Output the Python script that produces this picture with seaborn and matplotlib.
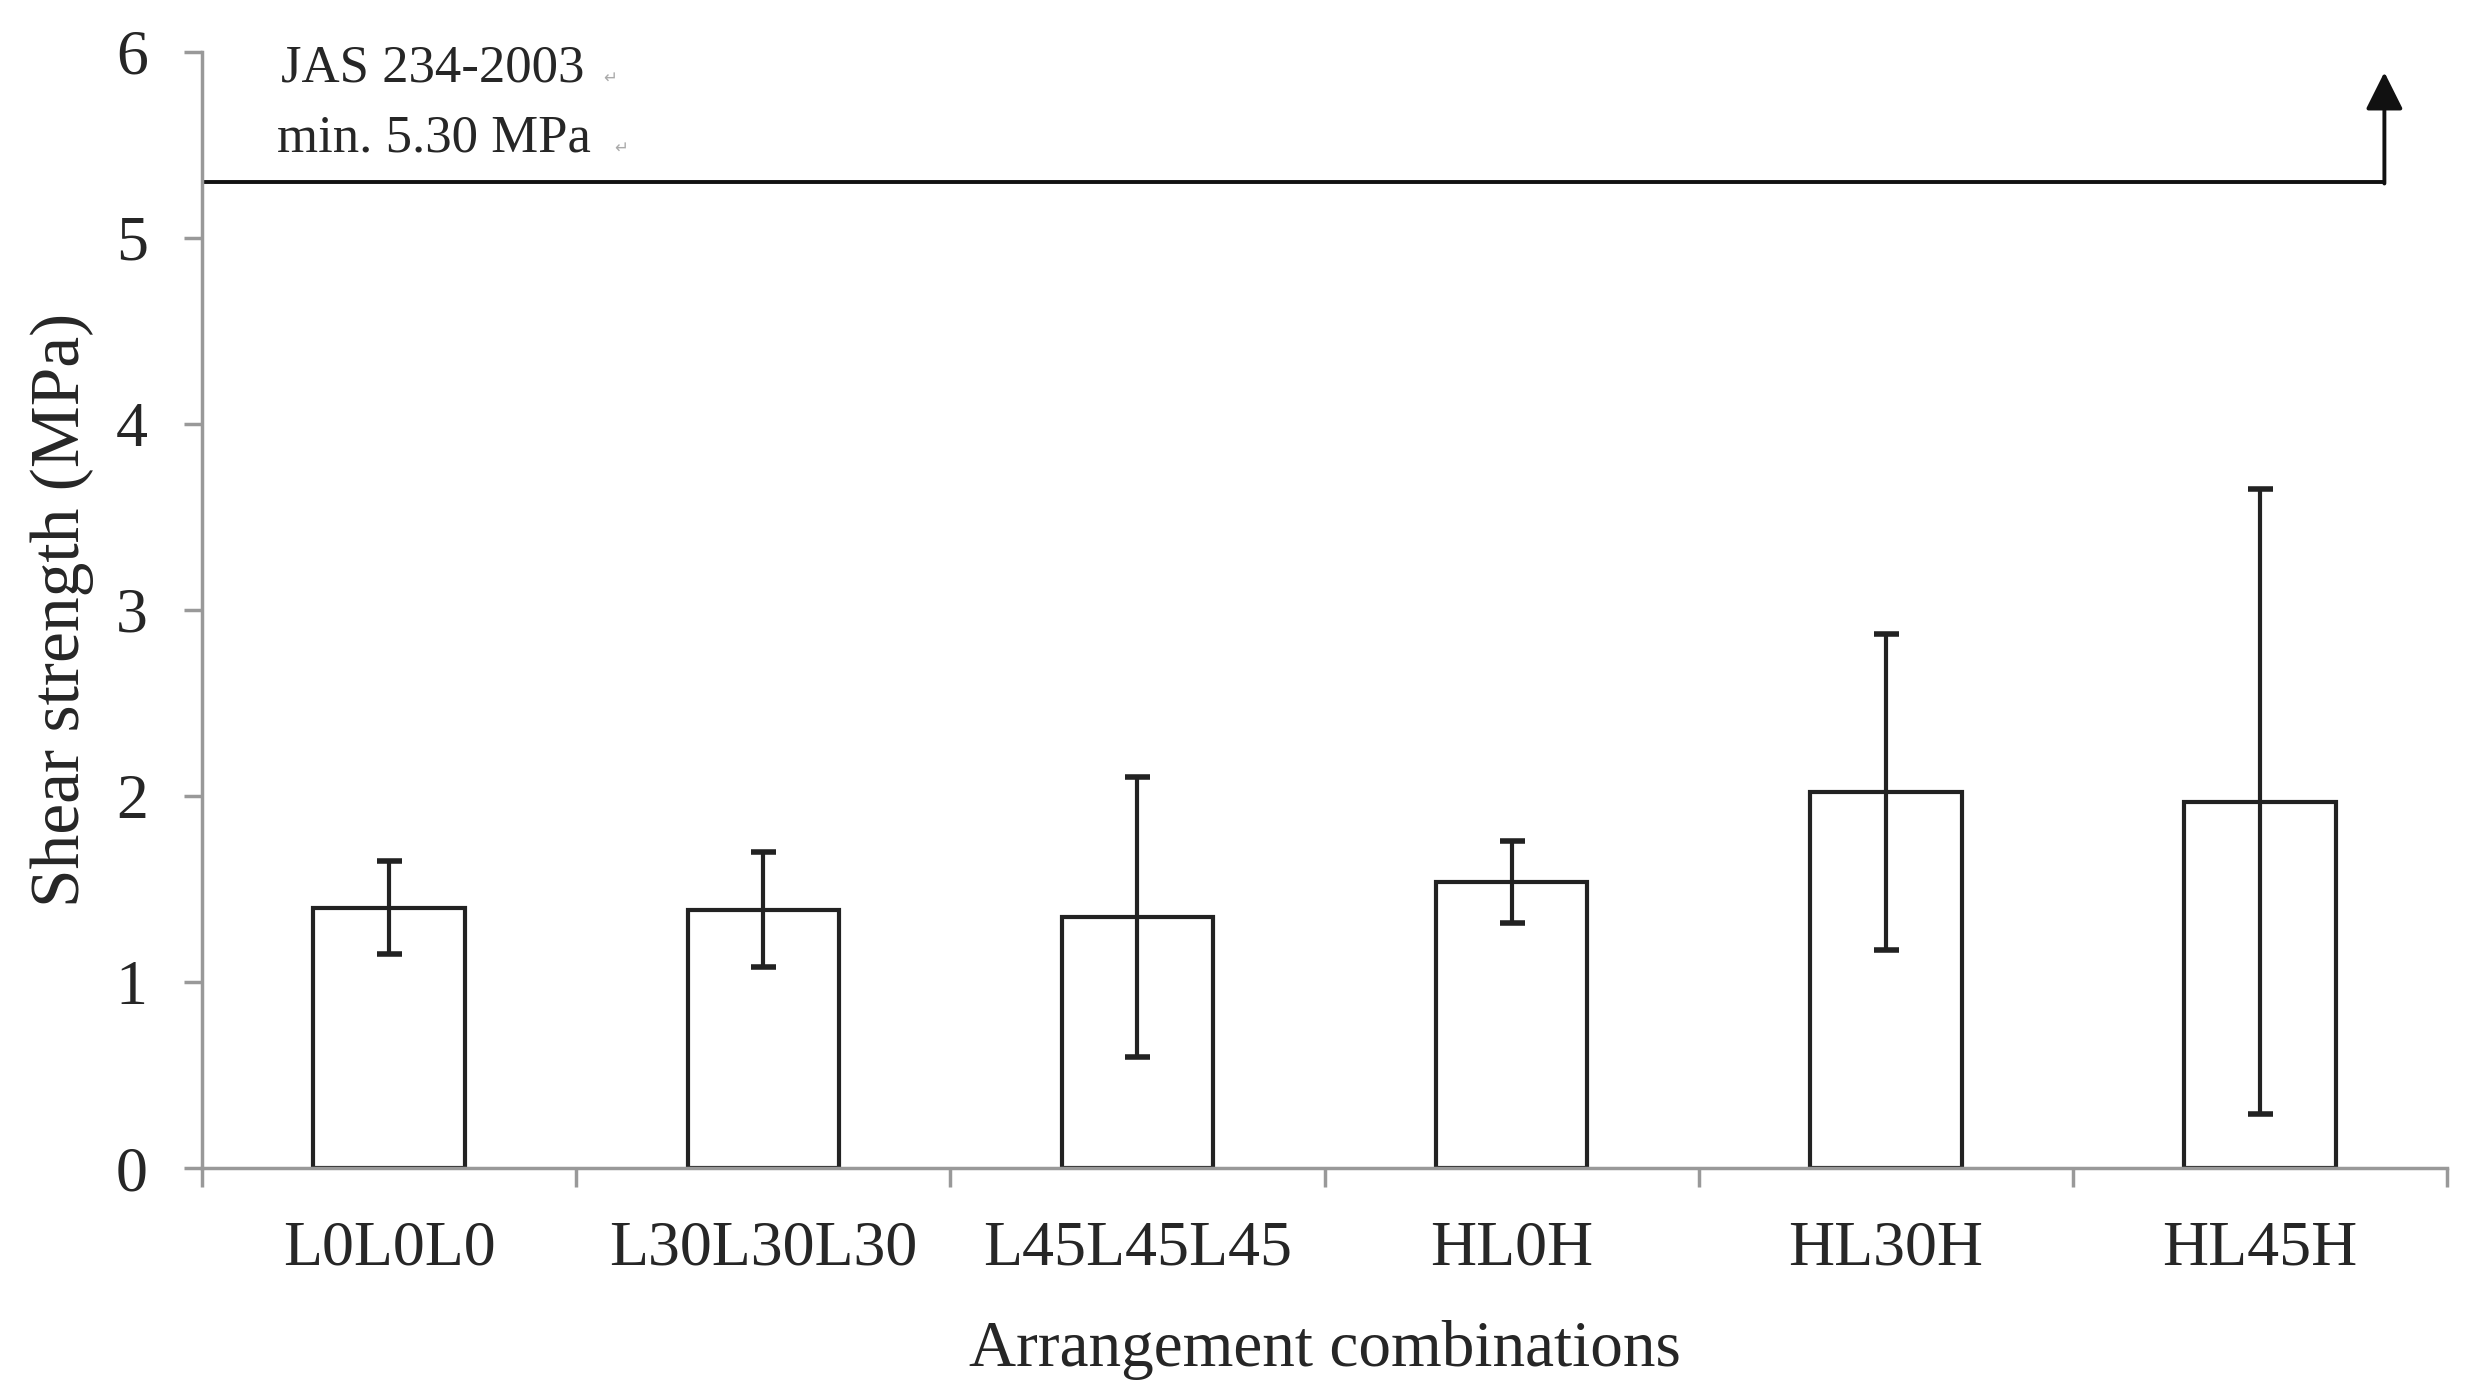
import matplotlib
matplotlib.use("Agg")
import matplotlib.pyplot as plt
import seaborn as sns
import pandas as pd

# values
combos = ["L0L0L0", "L30L30L30", "L45L45L45", "HL0H", "HL30H", "HL45H"]
shear_mean = [1.40, 1.39, 1.35, 1.54, 2.02, 1.97]
shear_sd = [0.25, 0.31, 0.75, 0.22, 0.85, 1.68]
jas_min = 5.30

df = pd.DataFrame({"combo": combos, "shear": shear_mean})

sns.set_style("white")
plt.rcParams["font.family"] = ["Liberation Serif", "DejaVu Sans"]

fig = plt.figure(figsize=(24.81, 13.99), dpi=100)
ax = fig.add_axes([0.0814, 0.165, 0.905, 0.798])

sns.barplot(data=df, x="combo", y="shear", color="white", edgecolor="#222222",
            linewidth=3, width=0.405, errorbar=None, ax=ax)
ax.errorbar(range(len(combos)), shear_mean, yerr=shear_sd, fmt="none",
            ecolor="#222222", elinewidth=3, capsize=9, capthick=4)

# JAS requirement line with arrow
arrow_x = 5.332
ax.plot([-0.5, arrow_x], [jas_min, jas_min], color="#111111", lw=2.8,
        solid_capstyle="butt", clip_on=False)
ax.annotate("", xy=(arrow_x, 5.89), xytext=(arrow_x, jas_min - 0.008),
            arrowprops=dict(arrowstyle="-|>,head_length=2.3,head_width=1.15",
                            color="#111111", lw=2.8, shrinkA=0, shrinkB=0,
                            mutation_scale=10))
ax.text(-0.29, 5.91, "JAS 234-2003", fontsize=38, va="center", ha="left")
ax.text(-0.30, 5.535, "min. 5.30 MPa", fontsize=38, va="center", ha="left")
ax.text(0.59, 5.86, "\u21b5", fontsize=12, color="#aaaaaa", va="center",
        ha="center", family="DejaVu Sans")
ax.text(0.62, 5.485, "\u21b5", fontsize=12, color="#aaaaaa", va="center",
        ha="center", family="DejaVu Sans")

ax.set_xlim(-0.5, 5.5)
ax.set_ylim(0, 6)
ax.set_yticks(range(0, 7))
ax.set_xticks(range(len(combos)))
ax.set_xticklabels(combos)
ax.set_xticks([i - 0.5 for i in range(len(combos) + 1)], minor=True)

for s in ["top", "right"]:
    ax.spines[s].set_visible(False)
for s in ["left", "bottom"]:
    ax.spines[s].set_color("#999999")
    ax.spines[s].set_linewidth(2.5)

ax.tick_params(axis="y", which="major", direction="out", length=13, width=2.5,
               color="#999999", labelsize=46, pad=26, left=True)
ax.tick_params(axis="x", which="major", length=0, labelsize=46, pad=38)
ax.tick_params(axis="x", which="minor", direction="out", length=14, width=2.5,
               color="#999999", bottom=True)

ax.set_xlabel("Arrangement combinations", fontsize=47)
ax.set_ylabel("Shear strength (MPa)", fontsize=50)
ax.xaxis.set_label_coords(0.5, -0.136)
ax.yaxis.set_label_coords(-0.048, 0.50)

fig.savefig("out.png", dpi=100)
